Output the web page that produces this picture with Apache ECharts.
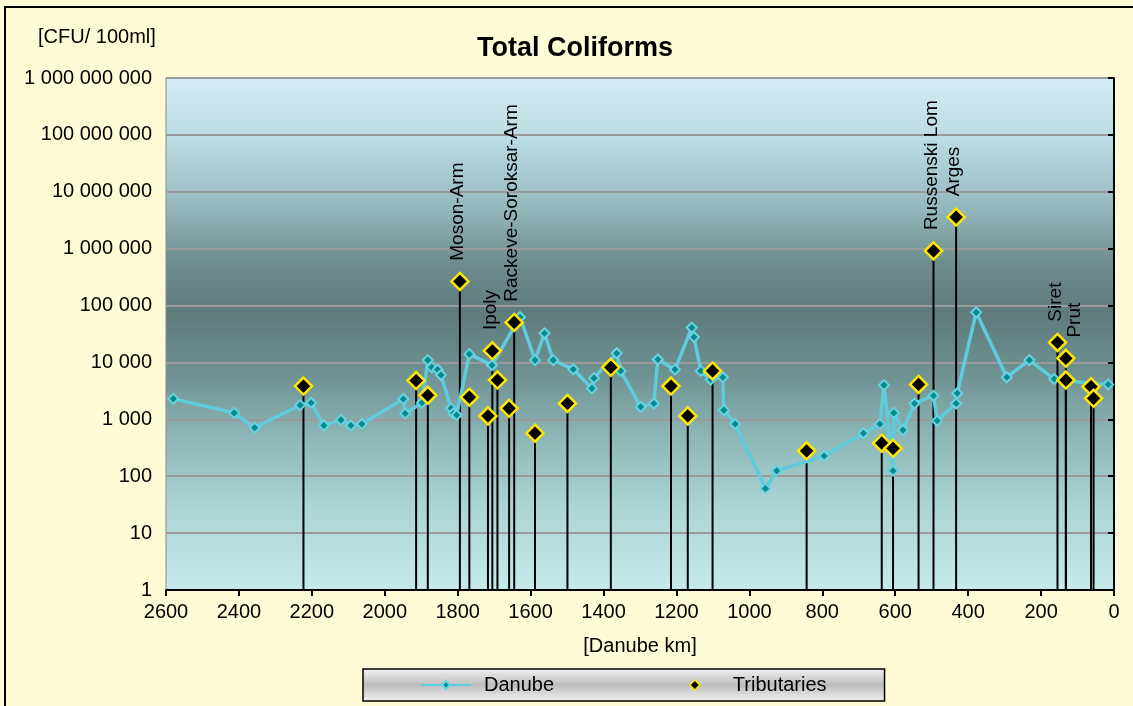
<!DOCTYPE html>
<html>
<head>
<meta charset="utf-8">
<script src="https://cdn.jsdelivr.net/npm/echarts@6/dist/echarts.min.js"></script>
<style>
html,body{margin:0;padding:0;background:#FFFBD6;}
#chart{width:1133px;height:706px;}
</style>
</head>
<body>
<div id="chart"></div>
<script>
// Danube main channel: river km and Total Coliforms [CFU/100ml]
const danubeKm = [2580, 2413, 2357, 2232, 2202, 2167, 2120, 2093, 2063, 1949, 1944, 1898, 1882, 1871, 1855, 1846, 1818, 1812, 1803, 1768, 1706, 1629, 1588, 1562, 1538, 1483, 1432, 1426, 1364, 1353, 1298, 1262, 1251, 1204, 1158, 1152, 1133, 1106, 1073, 1070, 1039, 956, 925, 795, 687, 642, 631, 606, 604, 579, 547, 495, 485, 433, 430, 378, 294, 232, 164, 132, 63, 16];
const danubeVal = [2300, 1300, 710, 1780, 1960, 780, 980, 780, 830, 2280, 1270, 1960, 11000, 8200, 7500, 6000, 1560, 1270, 1190, 14000, 8950, 63000, 11000, 32500, 11000, 7600, 3500, 5300, 14500, 7100, 1660, 1900, 11300, 7500, 41000, 28000, 7100, 5000, 5500, 1450, 830, 61, 125, 226, 570, 830, 4000, 125, 1300, 650, 1900, 2600, 945, 1900, 2870, 76000, 5500, 11000, 5100, 4800, 4300, 4100];

// Tributaries
const tribKm = [2223, 1914, 1882, 1794, 1768, 1717, 1705, 1691, 1659, 1645, 1588, 1499, 1380, 1215, 1169, 1101, 843, 637, 606, 536, 495, 433, 155, 132, 132, 63, 56];
const tribVal = [3850, 4800, 2650, 265000, 2450, 1150, 16000, 4900, 1560, 50500, 570, 1900, 8200, 3850, 1150, 7100, 280, 380, 310, 4100, 915000, 3600000, 22500, 11800, 4900, 3750, 2340];
const tribNames = ['', '', '', 'Moson-Arm', '', '', 'Ipoly', '', '', 'Rackeve-Soroksar-Arm', '', '', '', '', '', '', '', '', '', '', 'Russenski Lom', 'Arges', 'Siret', 'Prut', '', '', ''];

const xTicks = {min: 0, max: 2600, interval: 200};
const yRange = {min: 1, max: 1000000000};

const FONT = '"Liberation Sans", Arial, sans-serif';

function fmtSpace(v) {
  return Math.round(v).toString().replace(/\B(?=(\d{3})+(?!\d))/g, ' ');
}

const danubeData = danubeKm.map((k, i) => [k, danubeVal[i]]);
const tribData = tribKm.map((k, i) => {
  const item = {value: [k, tribVal[i]]};
  if (tribNames[i]) {
    item.label = {
      show: true,
      formatter: tribNames[i],
      position: 'top',
      distance: 11,
      rotate: 90,
      align: 'left',
      verticalAlign: 'middle',
      color: '#000',
      fontFamily: FONT,
      fontSize: 19,
      offset: tribNames[i] === 'Prut' ? [0, 9] : [0, -2]
    };
  }
  return item;
});

const chart = echarts.init(document.getElementById('chart'), null, {renderer: 'canvas'});
chart.setOption({
  backgroundColor: '#FFFBD6',
  animation: false,
  title: {
    text: 'Total Coliforms',
    left: 472,
    top: 30,
    textStyle: {fontFamily: FONT, fontSize: 27, fontWeight: 'bold', color: '#000'}
  },
  graphic: [
    {type: 'rect', shape: {x: 5, y: 7, width: 1140, height: 720}, style: {fill: 'none', stroke: '#000', lineWidth: 2}, silent: true},
    {type: 'text', left: 38, top: 27, style: {text: '[CFU/ 100ml]', font: '20px ' + FONT, fill: '#000'}}
  ],
  legend: {
    data: [
      {name: 'Danube'},
      {name: 'Tributaries', icon: 'path://M0,0 M50,10 M25,0 L30,5 L25,10 L20,5 Z', itemStyle: {borderWidth: 1.5}}
    ],
    left: 363,
    top: 669,
    padding: [6, 58, 6, 57],
    itemGap: 115,
    itemWidth: 50,
    itemHeight: 10,
    borderColor: '#000',
    borderWidth: 1.5,
    backgroundColor: new echarts.graphic.LinearGradient(0, 0, 0, 1, [
      {offset: 0, color: '#F4F4F4'},
      {offset: 0.5, color: '#BDBDBD'},
      {offset: 1, color: '#F4F4F4'}
    ]),
    textStyle: {fontFamily: FONT, fontSize: 20, color: '#000', padding: [0, 0, 0, 8]}
  },
  grid: {
    left: 166, right: 19, top: 78, bottom: 116,
    show: true,
    borderColor: '#8a8a8a',
    borderWidth: 1,
    backgroundColor: new echarts.graphic.LinearGradient(0, 0, 0, 1, [
      {offset: 0, color: '#D2ECF2'},
      {offset: 0.12, color: '#BADCE2'},
      {offset: 0.25, color: '#95BABE'},
      {offset: 0.36, color: '#6E8D8F'},
      {offset: 0.46, color: '#5E7B7C'},
      {offset: 0.58, color: '#6F9293'},
      {offset: 0.7, color: '#8DB6B6'},
      {offset: 0.84, color: '#ACD5D5'},
      {offset: 1, color: '#C6EAEB'}
    ])
  },
  xAxis: {
    type: 'value',
    inverse: true,
    min: xTicks.min,
    max: xTicks.max,
    interval: xTicks.interval,
    name: '[Danube km]',
    nameLocation: 'middle',
    nameGap: 46,
    nameTextStyle: {fontFamily: FONT, fontSize: 20, color: '#000'},
    axisLine: {show: true, onZero: false, lineStyle: {color: '#000', width: 2}},
    axisTick: {show: true, inside: false, length: 6, lineStyle: {color: '#000', width: 2}},
    axisLabel: {fontFamily: FONT, fontSize: 20, color: '#000', margin: 12, formatter: v => String(v)},
    splitLine: {show: false}
  },
  yAxis: {
    type: 'log',
    logBase: 10,
    min: yRange.min,
    max: yRange.max,
    axisLine: {show: true, lineStyle: {color: '#000', width: 2}},
    axisTick: {show: true, inside: false, length: 6, lineStyle: {color: '#000', width: 2}},
    axisLabel: {fontFamily: FONT, fontSize: 20, color: '#000', margin: 14, formatter: fmtSpace},
    splitLine: {show: true, lineStyle: {color: '#9a9a9a', width: 2}},
    minorTick: {show: false}
  },
  series: [
    {
      name: 'stems',
      type: 'custom',
      z: 1,
      silent: true,
      data: tribKm.map((k, i) => [k, tribVal[i]]),
      renderItem: function (params, api) {
        const top = api.coord([api.value(0), api.value(1)]);
        const bot = api.coord([api.value(0), yRange.min]);
        return {
          type: 'line',
          shape: {x1: bot[0], y1: bot[1], x2: top[0], y2: top[1]},
          style: {stroke: '#000', lineWidth: 2}
        };
      }
    },
    {
      name: 'Danube',
      type: 'line',
      z: 2,
      data: danubeData,
      symbol: 'diamond',
      symbolSize: 10,
      showAllSymbol: true,
      lineStyle: {color: '#5ECCDC', width: 3.5},
      itemStyle: {color: '#08898B', borderColor: '#66D3E2', borderWidth: 2}
    },
    {
      name: 'Tributaries',
      type: 'scatter',
      z: 3,
      data: tribData,
      symbol: 'diamond',
      symbolSize: 17,
      itemStyle: {color: '#000', borderColor: '#FFE600', borderWidth: 2.5, opacity: 1}
    }
  ]
});
</script>
</body>
</html>
